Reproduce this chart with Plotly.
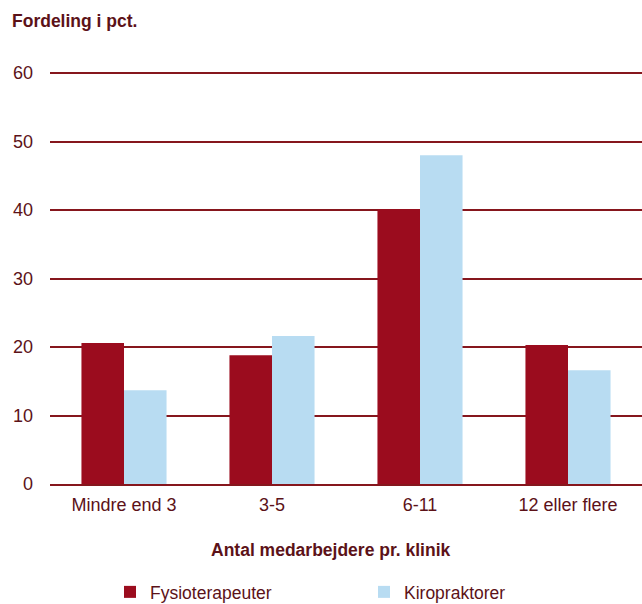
import plotly.graph_objects as go

categories = ["Mindre end 3", "3-5", "6-11", "12 eller flere"]
fysio = [20.6, 18.8, 40.1, 20.3]
kiro = [13.7, 21.6, 48.0, 16.6]
yticks = [0, 10, 20, 30, 40, 50, 60]

txt = "#5c1218"
grid = "#86161d"
font = "Liberation Sans, Arial, sans-serif"

fig = go.Figure()
fig.add_trace(go.Bar(x=categories, y=fysio, name="Fysioterapeuter", legend="legend",
                     marker=dict(color="#9b0c1e", line=dict(width=0))))
fig.add_trace(go.Bar(x=categories, y=kiro, name="Kiropraktorer", legend="legend2",
                     marker=dict(color="#b8dcf2", line=dict(width=0))))

leg_common = dict(orientation="h", xref="container", yref="container",
                  xanchor="left", yanchor="middle", y=12 / 604,
                  font=dict(size=17.5, color=txt), itemwidth=30,
                  bgcolor="rgba(0,0,0,0)", borderwidth=0)

fig.update_layout(
    width=642, height=604,
    margin=dict(l=50, r=0, t=71, b=120, autoexpand=False),
    paper_bgcolor="white", plot_bgcolor="white",
    font=dict(family=font, size=18, color=txt),
    barmode="group", bargap=0.425, bargroupgap=0,
    showlegend=True,
    legend=dict(x=(150 - 40) / 642, **leg_common),
    legend2=dict(x=(404 - 40) / 642, **leg_common),
    annotations=[
        dict(text="<b>Fordeling i pct.</b>", xref="paper", yref="paper",
             x=-40 / 592, y=1.0, xanchor="left", yanchor="middle", yshift=71 - 21,
             showarrow=False, font=dict(size=17.5, color=txt)),
        dict(text="<b>Antal medarbejdere pr. klinik</b>", xref="paper", yref="paper",
             x=(330.5 - 50) / 592, y=0, xanchor="center", yanchor="middle", yshift=-(550 - 484),
             showarrow=False, font=dict(size=17.5, color=txt)),
    ],
)
fig.update_yaxes(range=[0, 60.3], tickvals=yticks, showgrid=True, gridcolor=grid,
                 gridwidth=1.5, zeroline=False, showline=False, ticks="",
                 ticklabelstandoff=16, tickfont=dict(size=18, color=txt))
fig.update_xaxes(showline=True, linecolor=grid, linewidth=1.5, ticks="",
                 ticklabelstandoff=4, tickfont=dict(size=18, color=txt))

fig.write_html("out.html")
